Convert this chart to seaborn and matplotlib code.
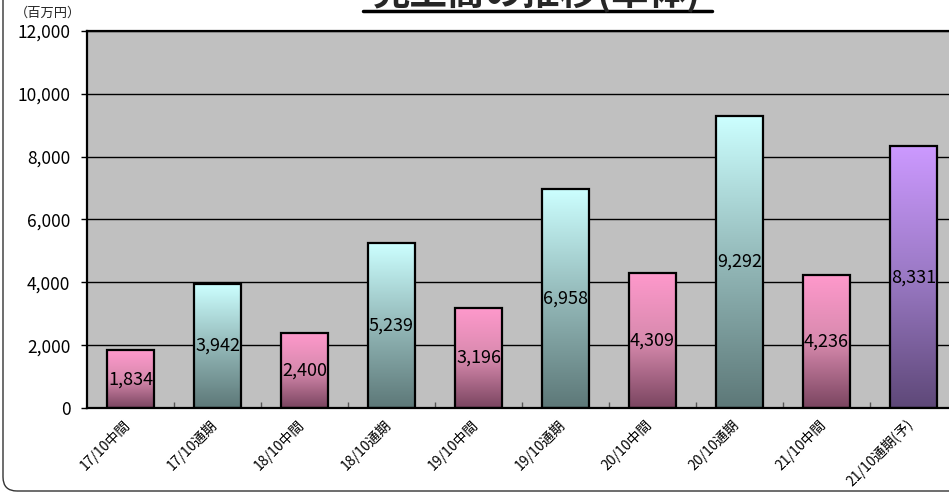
"""売上高の推移(単体) の棒グラフを再現する。"""

import matplotlib.pyplot as plt
import matplotlib.transforms as mtransforms
import numpy as np
import pandas as pd
import seaborn as sns
from matplotlib.colors import LinearSegmentedColormap
from matplotlib.lines import Line2D
from matplotlib.patches import FancyBboxPatch
from matplotlib.ticker import FuncFormatter, FixedLocator

categories = [
    "17/10中間", "17/10通期", "18/10中間", "18/10通期", "19/10中間",
    "19/10通期", "20/10中間", "20/10通期", "21/10中間", "21/10通期(予)",
]
sales = [1834, 3942, 2400, 5239, 3196, 6958, 4309, 9292, 4236, 8331]
kinds = ["中間", "通期", "中間", "通期", "中間", "通期", "中間", "通期", "中間", "予想"]
y_ticks = [0, 2000, 4000, 6000, 8000, 10000, 12000]

# 上が明るく下が暗いグラデーション
gradients = {
    "中間": ("#ff99cc", "#d88aae", "#7a4560"),
    "通期": ("#ccffff", "#93b8b8", "#5d7878"),
    "予想": ("#cc99ff", "#9a79c4", "#5e4878"),
}

sns.set_theme(style="white")
plt.rcParams["font.family"] = ["Noto Sans CJK JP", "DejaVu Sans"]
plt.rcParams["axes.unicode_minus"] = False

df = pd.DataFrame({"cat": categories, "sales": sales, "kind": kinds})

fig = plt.figure(figsize=(9.49, 4.98), dpi=100)
ax = fig.add_axes([87 / 949, 90 / 498, 870 / 949, 377 / 498])
ax.set_facecolor("#c0c0c0")

sns.barplot(data=df, x="cat", y="sales", ax=ax, color="#c0c0c0",
            width=0.55, edgecolor="black", linewidth=1.6, saturation=1)

for patch, kind, v in zip(ax.patches, kinds, sales):
    x0, y0 = patch.get_x(), patch.get_y()
    w, h = patch.get_width(), patch.get_height()
    cmap = LinearSegmentedColormap.from_list(kind, list(gradients[kind])[::-1])
    grad = np.linspace(0, 1, 256).reshape(-1, 1)
    im = ax.imshow(grad, cmap=cmap, origin="lower", aspect="auto",
                   extent=[x0, x0 + w, y0, y0 + h], zorder=patch.get_zorder() - 0.1)
    im.set_clip_path(patch)
    patch.set_facecolor("none")
    patch.set_zorder(patch.get_zorder() + 0.2)
    ax.text(x0 + w / 2, v / 2, f"{v:,}", ha="center", va="center",
            fontsize=13, color="black", zorder=5)

ax.set_xlim(-0.5, len(categories) - 0.5)
ax.set_ylim(0, 12000)
ax.set_yticks(y_ticks)
ax.yaxis.set_major_formatter(FuncFormatter(lambda v, _: f"{int(v):,}"))
ax.grid(axis="y", color="black", lw=1)
ax.set_axisbelow(True)
ax.set_xlabel("")
ax.set_ylabel("")

ax.tick_params(axis="y", labelsize=12.5, length=4, width=1, color="black",
               left=True, pad=8, labelcolor="black")
ax.tick_params(axis="x", which="major", length=0, pad=4)
ax.set_xticks(range(len(categories)))
ax.set_xticklabels(categories, rotation=45, ha="right", rotation_mode="anchor",
                   fontsize=10, color="black")
shift = mtransforms.ScaledTranslation(-8 / 100, -3 / 100, fig.dpi_scale_trans)
for lab in ax.get_xticklabels():
    lab.set_transform(lab.get_transform() + shift)
ax.xaxis.set_minor_locator(FixedLocator(np.arange(0.5, len(categories) - 0.5, 1)))
ax.tick_params(axis="x", which="minor", direction="in", length=4, width=1,
               color="#555555", bottom=True)

for side in ["left", "bottom", "top"]:
    ax.spines[side].set_color("black")
    ax.spines[side].set_linewidth(1.6)
ax.spines["right"].set_visible(False)

fig.text(15 / 949, 1 - 13 / 498, "（百万円）", fontsize=9.5, ha="left", va="center")

# タイトル（上端で切れている）と下線
fig.text(537 / 949, 1 - 4 / 498, "売上高の推移(単体)", fontsize=27,
         fontweight="bold", ha="center", va="baseline")
fig.add_artist(Line2D([363 / 949, 712 / 949], [1 - 11 / 498, 1 - 11 / 498],
                      color="black", lw=2.5, transform=fig.transFigure))

# 外枠（角丸）
fig.add_artist(FancyBboxPatch((3, 7), 1100, 600, boxstyle="round,pad=0,rounding_size=14",
                              facecolor="none", edgecolor="#333333", lw=1,
                              transform=None))

fig.savefig("out.png", dpi=100)
plt.close(fig)
